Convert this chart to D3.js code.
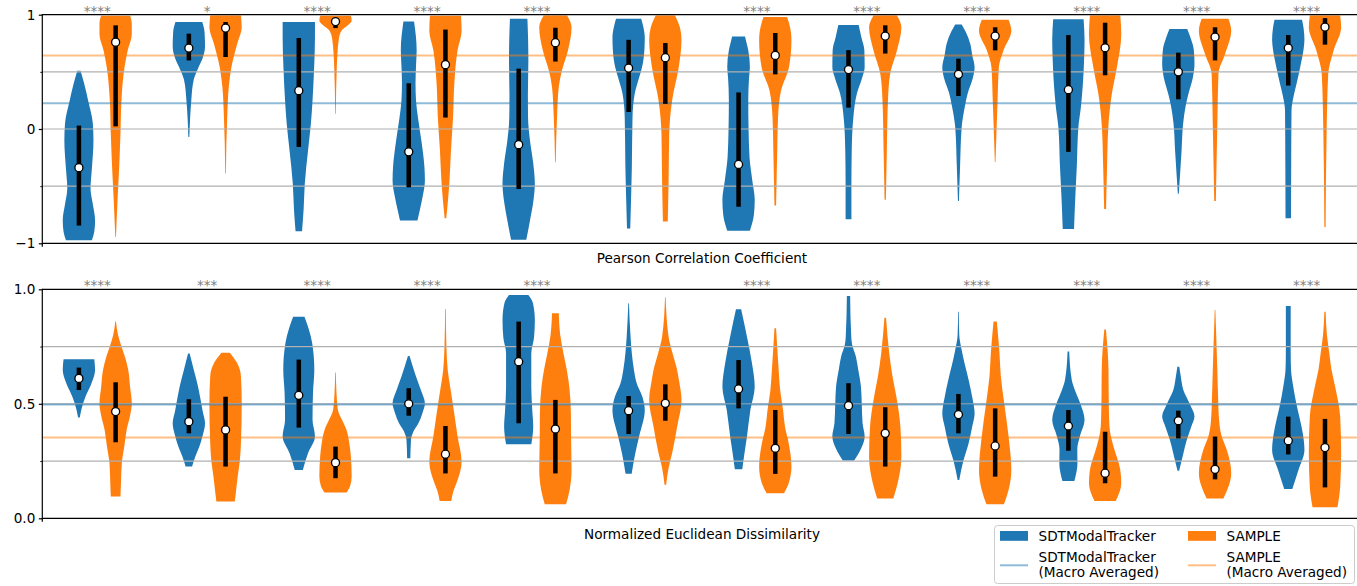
<!DOCTYPE html>
<html>
<head>
<meta charset="utf-8">
<script src="https://cdn.jsdelivr.net/npm/d3@7"></script>
<style>
  body { margin: 0; background: #fff; }
  text { font-family: "DejaVu Sans", sans-serif; }
</style>
</head>
<body>
<script>
// 12 conditions, two trackers compared on each
const groupCount = 12;
const seriesNames = ["SDTModalTracker", "SAMPLE"];
const seriesColors = ["#1f77b4", "#ff7f0e"];

// significance marks above each pair
const pearsonStars = ["****", "*", "****", "****", "****", "", "****", "****", "****", "****", "****", "****"];
const euclidStars  = ["****", "***", "****", "****", "****", "", "****", "****", "****", "****", "****", "****"];

// macro averaged reference lines
const pearsonMacro = [0.225, 0.642];
const euclidMacro  = [0.497, 0.353];

// ---- Pearson correlation, SDTModalTracker ----
// violin profiles: [value, relative half width]
const pearsonTrackerShape = [
  [[-0.974,0.8],[-0.9,0.95],[-0.8,1.0],[-0.65,0.85],[-0.52,0.72],[-0.35,0.8],[-0.1,0.9],[0.05,0.86],[0.25,0.57],[0.4,0.32],[0.51,0.1]],
  [[-0.07,0.03],[0.1,0.08],[0.25,0.15],[0.43,0.3],[0.54,0.6],[0.62,0.85],[0.72,1.0],[0.85,0.97],[0.936,0.83]],
  [[-0.895,0.2],[-0.7,0.3],[-0.48,0.37],[-0.19,0.57],[0.05,0.75],[0.25,0.85],[0.54,0.95],[0.8,1.0],[0.936,1.0]],
  [[-0.8,0.54],[-0.7,0.7],[-0.6,0.85],[-0.45,1.0],[-0.33,0.97],[-0.1,0.78],[0.1,0.57],[0.25,0.45],[0.4,0.42],[0.55,0.45],[0.69,0.49],[0.94,0.33]],
  [[-0.97,0.47],[-0.8,0.7],[-0.62,0.92],[-0.48,1.0],[-0.3,0.9],[-0.1,0.7],[0.1,0.58],[0.3,0.57],[0.6,0.6],[0.8,0.58],[0.965,0.54]],
  [[-0.87,0.1],[-0.62,0.15],[-0.33,0.2],[0.1,0.24],[0.31,0.38],[0.45,0.65],[0.54,0.83],[0.7,0.98],[0.8,1.0],[0.9,0.9],[0.965,0.78]],
  [[-0.89,0.7],[-0.75,0.95],[-0.62,1.0],[-0.45,0.85],[-0.25,0.68],[0.0,0.62],[0.25,0.6],[0.45,0.65],[0.54,0.7],[0.69,0.6],[0.75,0.5],[0.81,0.4]],
  [[-0.79,0.18],[-0.48,0.18],[-0.19,0.2],[0.1,0.3],[0.31,0.52],[0.45,0.85],[0.54,1.0],[0.69,0.98],[0.8,0.8],[0.91,0.63]],
  [[-0.63,0.03],[-0.33,0.1],[0.017,0.2],[0.2,0.4],[0.31,0.57],[0.45,0.9],[0.54,1.0],[0.65,0.85],[0.746,0.73],[0.85,0.45],[0.915,0.2]],
  [[-0.875,0.35],[-0.62,0.42],[-0.33,0.52],[0.017,0.62],[0.2,0.78],[0.4,0.9],[0.6,0.97],[0.78,1.0],[0.96,0.94]],
  [[-0.566,0.03],[-0.19,0.2],[0.05,0.3],[0.2,0.45],[0.31,0.63],[0.45,0.9],[0.57,1.0],[0.69,0.96],[0.8,0.75],[0.875,0.55]],
  [[-0.78,0.17],[-0.33,0.18],[0.16,0.2],[0.3,0.35],[0.4,0.52],[0.55,0.75],[0.7,0.95],[0.78,1.0],[0.88,0.95],[0.956,0.85]]
];
const pearsonTrackerMedian = [-0.338, 0.708, 0.335, -0.2, -0.137, 0.533, -0.31, 0.52, 0.478, 0.344, 0.5, 0.708];
const pearsonTrackerQ3     = [0.03, 0.834, 0.796, 0.40, 0.528, 0.78, 0.32, 0.69, 0.615, 0.822, 0.668, 0.822];
const pearsonTrackerQ1     = [-0.845, 0.6, -0.157, -0.51, -0.525, 0.149, -0.68, 0.187, 0.289, -0.2, 0.26, 0.38];

// ---- Pearson correlation, SAMPLE ----
const pearsonSampleShape = [
  [[-0.945,0.02],[-0.62,0.12],[-0.33,0.22],[-0.04,0.3],[0.25,0.36],[0.54,0.55],[0.69,0.75],[0.83,1.0],[0.92,1.0],[0.99,0.9]],
  [[-0.39,0.02],[0.1,0.1],[0.37,0.2],[0.54,0.36],[0.75,0.73],[0.89,1.0],[0.994,0.95]],
  [[0.134,0.02],[0.54,0.08],[0.78,0.2],[0.86,0.37],[0.95,1.0],[0.99,0.95]],
  [[-0.78,0.05],[-0.48,0.24],[-0.19,0.34],[0.1,0.47],[0.4,0.55],[0.69,0.75],[0.86,1.0],[0.99,0.96]],
  [[-0.29,0.02],[0.1,0.1],[0.37,0.21],[0.51,0.4],[0.69,0.78],[0.89,1.0],[0.994,0.73]],
  [[-0.81,0.15],[-0.48,0.2],[-0.04,0.24],[0.25,0.42],[0.54,0.83],[0.78,1.0],[0.89,0.9],[0.994,0.6]],
  [[-0.67,0.05],[-0.19,0.12],[0.1,0.17],[0.34,0.36],[0.54,0.85],[0.78,1.0],[0.9,0.9],[0.98,0.73]],
  [[-0.62,0.04],[-0.19,0.1],[0.25,0.17],[0.48,0.3],[0.69,0.73],[0.89,1.0],[0.994,0.73]],
  [[-0.29,0.02],[0.25,0.15],[0.54,0.23],[0.69,0.52],[0.86,1.0],[0.956,0.83]],
  [[-0.7,0.06],[-0.33,0.12],[0.017,0.2],[0.31,0.42],[0.54,0.73],[0.83,1.0],[0.994,0.94]],
  [[-0.63,0.05],[0.1,0.15],[0.48,0.21],[0.66,0.63],[0.86,1.0],[0.965,0.83]],
  [[-0.857,0.04],[-0.04,0.1],[0.48,0.2],[0.69,0.54],[0.89,1.0],[0.994,0.94]]
];
const pearsonSampleMedian = [0.76, 0.883, 0.94, 0.563, 0.755, 0.624, 0.644, 0.813, 0.813, 0.711, 0.805, 0.892];
const pearsonSampleQ3     = [0.907, 0.936, 0.965, 0.87, 0.886, 0.752, 0.84, 0.907, 0.89, 0.93, 0.89, 0.97];
const pearsonSampleQ1     = [0.023, 0.63, 0.883, 0.1, 0.59, 0.22, 0.478, 0.66, 0.688, 0.47, 0.6, 0.738];

// ---- Euclidean dissimilarity, SDTModalTracker ----
const euclidTrackerShape = [
  [[0.44,0.05],[0.5,0.25],[0.53,0.4],[0.59,0.78],[0.648,1.0],[0.694,0.95]],
  [[0.226,0.2],[0.27,0.4],[0.313,0.65],[0.36,0.85],[0.415,1.0],[0.47,0.85],[0.575,0.57],[0.65,0.3],[0.72,0.05]],
  [[0.211,0.25],[0.284,0.57],[0.357,1.0],[0.43,0.85],[0.55,0.88],[0.648,0.96],[0.764,0.83],[0.83,0.6],[0.88,0.35]],
  [[0.262,0.1],[0.342,0.14],[0.38,0.3],[0.415,0.6],[0.46,0.85],[0.502,1.0],[0.56,0.75],[0.619,0.45],[0.709,0.05]],
  [[0.323,0.78],[0.4,0.9],[0.473,0.84],[0.575,0.78],[0.72,0.78],[0.79,0.95],[0.866,1.0],[0.94,0.88],[0.975,0.6]],
  [[0.194,0.19],[0.28,0.4],[0.357,0.65],[0.473,1.0],[0.531,0.85],[0.59,0.5],[0.648,0.33],[0.72,0.2],[0.793,0.12],[0.939,0.02]],
  [[0.214,0.23],[0.3,0.4],[0.357,0.52],[0.473,0.73],[0.575,1.0],[0.677,0.83],[0.793,0.52],[0.913,0.16]],
  [[0.252,0.35],[0.3,0.75],[0.357,1.0],[0.415,0.87],[0.5,0.82],[0.575,0.77],[0.65,0.6],[0.706,0.46],[0.76,0.22],[0.793,0.17],[0.971,0.1]],
  [[0.167,0.05],[0.25,0.3],[0.328,0.63],[0.4,0.85],[0.458,1.0],[0.53,0.85],[0.604,0.63],[0.67,0.4],[0.735,0.2],[0.8,0.05],[0.902,0.02]],
  [[0.163,0.37],[0.24,0.56],[0.3,0.55],[0.36,0.72],[0.429,1.0],[0.502,0.73],[0.56,0.4],[0.604,0.21],[0.728,0.05]],
  [[0.208,0.05],[0.28,0.3],[0.342,0.52],[0.4,0.8],[0.444,1.0],[0.5,0.7],[0.56,0.31],[0.62,0.15],[0.662,0.06]],
  [[0.128,0.25],[0.211,0.63],[0.298,1.0],[0.37,0.9],[0.429,0.73],[0.5,0.5],[0.575,0.31],[0.65,0.17],[0.72,0.15],[0.927,0.15]]
];
const euclidTrackerMedian = [0.611, 0.422, 0.537, 0.5, 0.684, 0.47, 0.565, 0.492, 0.453, 0.403, 0.426, 0.339];
const euclidTrackerQ3     = [0.658, 0.52, 0.693, 0.568, 0.859, 0.534, 0.691, 0.59, 0.543, 0.473, 0.47, 0.444];
const euclidTrackerQ1     = [0.56, 0.371, 0.396, 0.448, 0.415, 0.368, 0.48, 0.368, 0.371, 0.295, 0.349, 0.279];

// ---- Euclidean dissimilarity, SAMPLE ----
const euclidSampleShape = [
  [[0.095,0.3],[0.15,0.33],[0.24,0.38],[0.32,0.55],[0.386,0.68],[0.45,0.9],[0.502,1.0],[0.57,0.9],[0.648,0.78],[0.7,0.6],[0.75,0.36],[0.8,0.15],[0.859,0.02]],
  [[0.073,0.57],[0.12,0.65],[0.182,0.75],[0.25,0.88],[0.328,0.95],[0.502,1.0],[0.62,0.95],[0.68,0.7],[0.723,0.26]],
  [[0.113,0.68],[0.14,0.9],[0.182,1.0],[0.27,0.95],[0.33,0.85],[0.386,0.68],[0.43,0.4],[0.473,0.15],[0.55,0.06],[0.637,0.02]],
  [[0.076,0.36],[0.12,0.5],[0.153,0.68],[0.247,1.0],[0.357,0.75],[0.43,0.6],[0.502,0.45],[0.57,0.3],[0.648,0.14],[0.75,0.06],[0.914,0.02]],
  [[0.061,0.66],[0.124,0.88],[0.211,1.0],[0.35,0.97],[0.458,0.96],[0.575,0.86],[0.65,0.7],[0.72,0.5],[0.8,0.3],[0.895,0.21]],
  [[0.146,0.05],[0.22,0.2],[0.284,0.42],[0.4,0.73],[0.517,1.0],[0.6,0.85],[0.648,0.73],[0.72,0.45],[0.793,0.2],[0.964,0.02]],
  [[0.109,0.54],[0.153,0.83],[0.226,1.0],[0.328,0.83],[0.4,0.6],[0.473,0.48],[0.56,0.3],[0.648,0.21],[0.83,0.05]],
  [[0.087,0.5],[0.153,0.77],[0.27,1.0],[0.4,0.94],[0.531,0.69],[0.62,0.45],[0.72,0.25],[0.876,0.05]],
  [[0.061,0.54],[0.124,0.83],[0.211,1.0],[0.357,0.83],[0.502,0.56],[0.62,0.35],[0.72,0.27],[0.859,0.1]],
  [[0.076,0.66],[0.153,1.0],[0.211,0.94],[0.313,0.52],[0.38,0.3],[0.429,0.25],[0.55,0.22],[0.648,0.21],[0.825,0.05]],
  [[0.087,0.52],[0.197,1.0],[0.298,0.73],[0.36,0.4],[0.429,0.25],[0.55,0.18],[0.648,0.14],[0.91,0.02]],
  [[0.048,0.77],[0.138,0.94],[0.284,1.0],[0.444,0.94],[0.575,0.63],[0.65,0.4],[0.72,0.27],[0.8,0.12],[0.902,0.04]]
];
const euclidSampleMedian = [0.466, 0.386, 0.243, 0.28, 0.39, 0.502, 0.306, 0.371, 0.316, 0.197, 0.214, 0.309];
const euclidSampleQ3     = [0.594, 0.531, 0.313, 0.403, 0.517, 0.585, 0.473, 0.485, 0.48, 0.378, 0.357, 0.434];
const euclidSampleQ1     = [0.332, 0.226, 0.175, 0.196, 0.196, 0.426, 0.194, 0.226, 0.182, 0.153, 0.17, 0.135];

const width = 1357, height = 586;
const fontSize = 13.6;

const svg = d3.select("body").append("svg")
    .attr("width", width)
    .attr("height", height);

// x in group units, axes runs a bit past the right edge of the picture
const x = d3.scaleLinear().domain([-0.5, groupCount - 0.5]).range([42.3, 1361.6]);
const dodge = 0.167, halfW = 0.147;
const halfPx = x(halfW) - x(0);

const panels = [
  {
    domain: [-1, 1], range: [243.3, 14.7],
    major: [-1, 0, 1], minor: [-0.5, 0.5], grid: [-0.5, 0, 0.5],
    fmt: d3.format("d"),
    stars: pearsonStars, macro: pearsonMacro,
    label: "Pearson Correlation Coefficient", labelY: 263,
    series: [
      { shape: pearsonTrackerShape, median: pearsonTrackerMedian, q1: pearsonTrackerQ1, q3: pearsonTrackerQ3 },
      { shape: pearsonSampleShape, median: pearsonSampleMedian, q1: pearsonSampleQ1, q3: pearsonSampleQ3 }
    ]
  },
  {
    domain: [0, 1], range: [518.3, 289.3],
    major: [0, 0.5, 1], minor: [0.25, 0.75], grid: [0.25, 0.5, 0.75],
    fmt: d3.format(".1f"),
    stars: euclidStars, macro: euclidMacro,
    label: "Normalized Euclidean Dissimilarity", labelY: 538.5,
    series: [
      { shape: euclidTrackerShape, median: euclidTrackerMedian, q1: euclidTrackerQ1, q3: euclidTrackerQ3 },
      { shape: euclidSampleShape, median: euclidSampleMedian, q1: euclidSampleQ1, q3: euclidSampleQ3 }
    ]
  }
];

panels.forEach(p => {
  const y = d3.scaleLinear().domain(p.domain).range(p.range);
  const g = svg.append("g");
  const x0 = x.range()[0], x1 = x.range()[1];

  // violins
  p.series.forEach((s, si) => {
    const off = si === 0 ? -dodge : dodge;
    s.shape.forEach((prof, i) => {
      const cx = x(i + off);
      const area = d3.area()
          .y(d => y(d[0]))
          .x0(d => cx - d[1] * halfPx)
          .x1(d => cx + d[1] * halfPx)
          .curve(d3.curveMonotoneY);
      g.append("path")
          .attr("d", area(prof))
          .attr("fill", seriesColors[si]);
    });
  });

  // grid lines (drawn over the violins as in the original)
  g.selectAll(".grid").data(p.grid).enter().append("line")
      .attr("x1", x0).attr("x2", x1)
      .attr("y1", d => y(d)).attr("y2", d => y(d))
      .attr("stroke", "#b0b0b0").attr("stroke-width", 1.2);

  // macro averaged lines
  g.selectAll(".macro").data(p.macro).enter().append("line")
      .attr("x1", x0).attr("x2", x1)
      .attr("y1", d => y(d)).attr("y2", d => y(d))
      .attr("stroke", (d, i) => seriesColors[i])
      .attr("stroke-opacity", 0.5)
      .attr("stroke-width", 2);

  // inner box: IQR bar + median dot
  p.series.forEach((s, si) => {
    const off = si === 0 ? -dodge : dodge;
    s.median.forEach((m, i) => {
      const cx = x(i + off);
      g.append("line")
          .attr("x1", cx).attr("x2", cx)
          .attr("y1", y(s.q1[i])).attr("y2", y(s.q3[i]))
          .attr("stroke", "#000").attr("stroke-width", 4.5);
      g.append("circle")
          .attr("cx", cx).attr("cy", y(m)).attr("r", 4)
          .attr("fill", "#fff").attr("stroke", "#000").attr("stroke-width", 1.3);
    });
  });

  // spines
  g.append("line").attr("x1", x0).attr("x2", x1).attr("y1", p.range[1]).attr("y2", p.range[1])
      .attr("stroke", "#000").attr("stroke-width", 1.2);
  g.append("line").attr("x1", x0).attr("x2", x1).attr("y1", p.range[0]).attr("y2", p.range[0])
      .attr("stroke", "#000").attr("stroke-width", 1.2);
  g.append("line").attr("x1", x0).attr("x2", x0).attr("y1", p.range[0] + 0.6).attr("y2", p.range[1] - 0.6)
      .attr("stroke", "#000").attr("stroke-width", 1.2);
  // small tick under the left corner
  g.append("line").attr("x1", x0).attr("x2", x0).attr("y1", p.range[0]).attr("y2", p.range[0] + 3.5)
      .attr("stroke", "#000").attr("stroke-width", 1.2);

  // y axis: major with labels, minor without
  const ax = g.append("g").attr("transform", `translate(${x0},0)`)
      .call(d3.axisLeft(y).tickValues(p.major).tickFormat(p.fmt).tickSize(3.5).tickPadding(3.5));
  ax.select(".domain").remove();
  ax.selectAll("line").attr("stroke-width", 1.2);
  ax.selectAll("text").attr("font-size", fontSize).attr("font-family", "DejaVu Sans").attr("fill", "#000");

  const axm = g.append("g").attr("transform", `translate(${x0},0)`)
      .call(d3.axisLeft(y).tickValues(p.minor).tickFormat("").tickSize(2));
  axm.select(".domain").remove();
  axm.selectAll("line").attr("stroke-width", 0.9);

  // significance stars
  g.selectAll(".stars").data(p.stars).enter().append("text")
      .attr("x", (d, i) => x(i))
      .attr("y", p.range[1] + 0.8)
      .attr("text-anchor", "middle")
      .attr("font-size", fontSize)
      .attr("fill", "#808080")
      .text(d => d);

  // x label
  g.append("text")
      .attr("x", (x0 + x1) / 2)
      .attr("y", p.labelY)
      .attr("text-anchor", "middle")
      .attr("font-size", fontSize)
      .text(p.label);
});

// legend
const lg = svg.append("g");
lg.append("rect")
    .attr("x", 994.5).attr("y", 525.5).attr("width", 360).attr("height", 58)
    .attr("rx", 3)
    .attr("fill", "#fff").attr("fill-opacity", 0.8)
    .attr("stroke", "#cccccc").attr("stroke-width", 1);

const legendCols = [1000, 1188];
seriesNames.forEach((name, i) => {
  const lx = legendCols[i];
  lg.append("rect")
      .attr("x", lx).attr("y", 531).attr("width", 28).attr("height", 9.8)
      .attr("fill", seriesColors[i]);
  lg.append("text")
      .attr("x", lx + 38.5).attr("y", 541)
      .attr("font-size", fontSize)
      .text(name);
  lg.append("line")
      .attr("x1", lx).attr("x2", lx + 28)
      .attr("y1", 565.3).attr("y2", 565.3)
      .attr("stroke", seriesColors[i]).attr("stroke-opacity", 0.5).attr("stroke-width", 2);
  const t = lg.append("text")
      .attr("x", lx + 38.5).attr("y", 562.3)
      .attr("font-size", fontSize);
  t.append("tspan").attr("x", lx + 38.5).text(name);
  t.append("tspan").attr("x", lx + 38.5).attr("dy", 15).text("(Macro Averaged)");
});
</script>
</body>
</html>
